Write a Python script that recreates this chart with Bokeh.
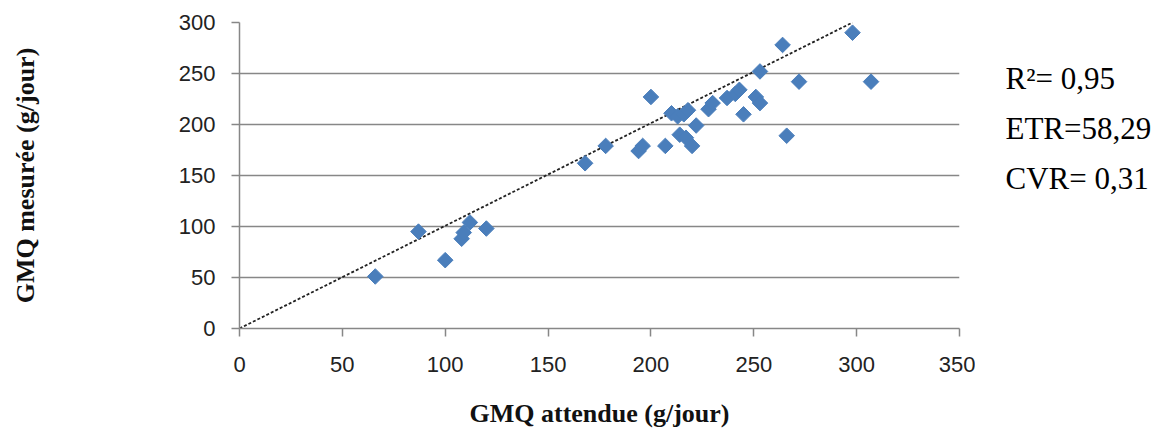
import numpy as np
from bokeh.plotting import figure
from bokeh.models import Range1d, FixedTicker
from bokeh.layouts import row
from bokeh.core.properties import value
from bokeh.embed import file_html
from bokeh.resources import INLINE

# Data
gmq_attendue = [66, 87, 100, 108, 109, 112, 120, 168, 178, 194, 196, 200, 207, 210, 213,
                214, 217, 216, 218, 220, 222, 228, 230, 237, 241, 243, 245, 251, 253, 253,
                264, 266, 272, 298, 307]
gmq_mesuree = [51, 95, 67, 88, 94, 104, 98, 162, 179, 174, 179, 227, 179, 211, 208,
               190, 187, 210, 214, 179, 199, 215, 221, 226, 230, 234, 210, 227, 221, 252,
               278, 189, 242, 290, 242]
line_x = [0, 298]
line_y = [0, 300]
x_ticks = [0, 50, 100, 150, 200, 250, 300, 350]
y_ticks = [0, 50, 100, 150, 200, 250, 300]
stats_text = ["R\u00b2= 0,95", "ETR=58,29", "CVR= 0,31"]

TOP, FRAME_H, HEIGHT = 22, 306, 432
BOTTOM = HEIGHT - TOP - FRAME_H

p = figure(width=975, height=HEIGHT, output_backend="svg", toolbar_location=None,
           x_range=Range1d(0, 350), y_range=Range1d(0, 300),
           min_border_left=239, min_border_right=16, min_border_top=TOP,
           min_border_bottom=BOTTOM)
p.outline_line_color = None
p.background_fill_color = "white"
p.border_fill_color = "white"

axis_col = "#878787"
for ax in (p.xaxis[0], p.yaxis[0]):
    ax.axis_line_color = axis_col
    ax.axis_line_width = 1.5
    ax.major_tick_line_color = axis_col
    ax.major_tick_line_width = 1.5
    ax.major_tick_in = 0
    ax.major_tick_out = 8
    ax.minor_tick_line_color = None
    ax.major_label_text_font = "Liberation Sans"
    ax.major_label_text_font_size = "22px"
    ax.major_label_text_color = "#222222"
    ax.axis_label_text_font = "Liberation Serif"
    ax.axis_label_text_font_style = "bold"
    ax.axis_label_text_font_size = "26px"
    ax.axis_label_text_color = "#111111"

p.xaxis.ticker = FixedTicker(ticks=x_ticks)
p.yaxis.ticker = FixedTicker(ticks=y_ticks)
p.xaxis.axis_label = "GMQ attendue (g/jour)"
p.yaxis.axis_label = "GMQ mesurée (g/jour)"
p.xaxis.major_label_standoff = 20
p.yaxis.major_label_standoff = 16
p.xaxis.axis_label_standoff = 24
p.yaxis.axis_label_standoff = 136

p.xgrid.grid_line_color = None
p.ygrid.ticker = FixedTicker(ticks=y_ticks)
p.ygrid.grid_line_color = axis_col
p.ygrid.grid_line_width = 1.5

p.line(line_x, line_y, line_color="#222222", line_width=1.8, line_dash="3 2")
p.scatter(gmq_attendue, gmq_mesuree, marker="square", angle=np.pi / 4, size=11,
          fill_color="#4a7ebb", line_color="#4a7ebb")

# side panel with the statistics; its frame is aligned with the main frame
p2 = figure(width=189, height=HEIGHT, output_backend="svg", toolbar_location=None,
            x_range=Range1d(0, 189), y_range=Range1d(0, 300),
            min_border_left=0, min_border_right=0, min_border_top=TOP,
            min_border_bottom=BOTTOM)
p2.axis.visible = False
p2.grid.visible = False
p2.outline_line_color = None
p2.border_fill_color = "white"
px_per_unit = FRAME_H / 300
centers_px = [78 + 50 * i for i in range(len(stats_text))]
text_x = [30] * len(stats_text)
text_y = [300 - (c - TOP) / px_per_unit for c in centers_px]
p2.text(x=text_x, y=text_y, text=stats_text, text_font=value("Liberation Serif"),
        text_font_size="31px", text_color="#000000", text_baseline="middle",
        text_align="left")

open("out.html", "w").write(file_html(row(p, p2), INLINE))
